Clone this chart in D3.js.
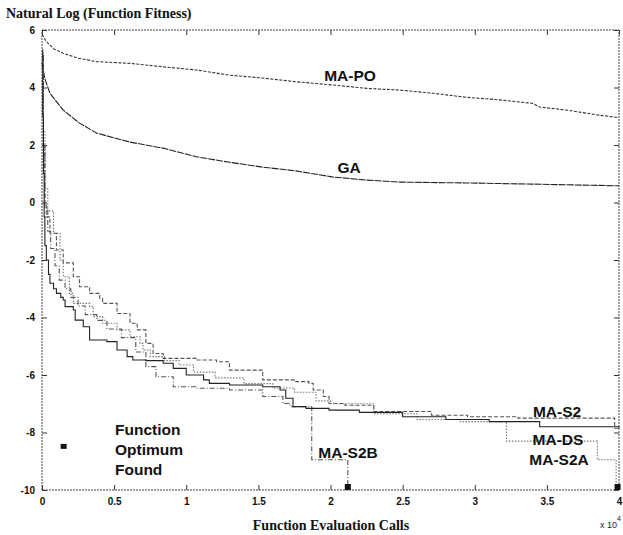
<!DOCTYPE html>
<html lang="en">
<head>
    <meta charset="UTF-8">
    <title>Natural Log (Function Fitness)</title>
    <script src="https://d3js.org/d3.v7.min.js"></script>
    <style>
        body { margin: 0; background: #fff; }
        .tick text { font: bold 10px "Liberation Sans", Arial, sans-serif; fill: #111; }
        .tick line { stroke: #333; }
        .serif { font-family: "Liberation Serif", "Times New Roman", serif; font-weight: bold; fill: #111; }
        .lab { font: bold 15.5px "Liberation Sans", Arial, sans-serif; fill: #111; }
        .series { fill: none; stroke-width: 1.1px; }
    </style>
</head>
<body>
    <svg id="chart"></svg>
    <script>
        // x values are in units of 10^4 evaluation calls (as on the axis)
        const xTicks = [0, 0.5, 1, 1.5, 2, 2.5, 3, 3.5, 4];
        const yTicks = [6, 4, 2, 0, -2, -4, -6, -8, -10];

        const maPO = [[0,5.85],[0.03,5.6],[0.08,5.35],[0.147,5.19],[0.25,5.02],[0.378,4.90],[0.61,4.84],[0.84,4.72],[1.07,4.61],[1.30,4.43],[1.53,4.33],[1.76,4.20],[2.01,4.09],[2.25,3.97],[2.48,3.91],[2.71,3.80],[2.94,3.66],[3.17,3.57],[3.40,3.45],[3.45,3.32],[3.63,3.22],[3.86,3.04],[4.0,2.95]];
        const ga = [[0,4.85],[0.02,4.3],[0.055,3.8],[0.146,3.22],[0.26,2.76],[0.38,2.41],[0.61,2.10],[0.84,1.89],[1.07,1.59],[1.30,1.40],[1.53,1.23],[1.76,1.10],[2.01,0.89],[2.25,0.78],[2.48,0.71],[2.94,0.68],[3.40,0.64],[4.0,0.58]];
        const maDS = [[0,5.3],[0.005,3],[0.01,1],[0.015,-0.5],[0.02,-1.5],[0.03,-2.0],[0.045,-2.5],[0.055,-2.81],[0.08,-3.0],[0.1,-3.16],[0.13,-3.3],[0.147,-3.39],[0.16,-3.62],[0.217,-3.74],[0.23,-4.09],[0.286,-4.32],[0.33,-4.78],[0.45,-4.84],[0.52,-5.13],[0.59,-5.36],[0.63,-5.48],[0.72,-5.50],[0.84,-5.59],[0.91,-5.77],[1.0,-6.0],[1.12,-6.17],[1.16,-6.29],[1.30,-6.35],[1.53,-6.41],[1.65,-6.52],[1.69,-6.81],[1.74,-7.10],[1.83,-7.16],[1.99,-7.22],[2.2,-7.3],[2.5,-7.45],[2.8,-7.55],[3.1,-7.62],[3.45,-7.80],[4.0,-7.84]];
        const maS2 = [[0,5.0],[0.01,2],[0.02,0],[0.03,-0.5],[0.055,-1.07],[0.10,-1.65],[0.147,-2.1],[0.217,-2.58],[0.26,-2.93],[0.33,-3.16],[0.40,-3.33],[0.42,-3.51],[0.52,-3.86],[0.61,-4.20],[0.66,-4.43],[0.72,-4.90],[0.77,-5.25],[0.84,-5.42],[1.07,-5.48],[1.21,-5.54],[1.30,-5.83],[1.53,-6.17],[1.76,-6.23],[1.85,-6.29],[1.88,-6.52],[1.95,-6.75],[1.99,-6.99],[2.1,-7.05],[2.3,-7.27],[2.7,-7.40],[2.95,-7.45],[3.3,-7.50],[3.95,-7.5],[3.97,-7.85],[4.0,-7.85]];
        const maS2A = [[0,5.2],[0.01,2.5],[0.02,0.5],[0.04,-0.3],[0.08,-1.07],[0.125,-2.0],[0.147,-2.58],[0.19,-3.16],[0.217,-3.51],[0.33,-3.62],[0.355,-3.97],[0.42,-4.20],[0.52,-4.43],[0.61,-4.67],[0.68,-4.90],[0.70,-5.13],[0.75,-5.36],[0.85,-5.5],[0.95,-5.65],[1.05,-5.9],[1.2,-6.1],[1.4,-6.3],[1.6,-6.45],[1.75,-6.6],[1.9,-6.9],[2.0,-7.0],[2.3,-7.35],[2.6,-7.55],[2.9,-7.62],[3.22,-8.3],[3.85,-8.95],[3.98,-10],[4.0,-10]];
        const maS2B = [[0,5.1],[0.01,2],[0.02,-0.2],[0.04,-1.0],[0.06,-1.6],[0.09,-2.2],[0.12,-2.7],[0.16,-3.0],[0.2,-3.3],[0.25,-3.6],[0.3,-3.9],[0.38,-4.1],[0.45,-4.4],[0.55,-4.7],[0.65,-5.2],[0.72,-5.71],[0.79,-6.06],[0.91,-6.41],[1.07,-6.46],[1.30,-6.52],[1.53,-6.75],[1.67,-6.99],[1.72,-7.10],[1.87,-8.95],[2.12,-10]];
        const optimumFound = [[2.12,-10],[3.99,-10]];

        const width = 623, height = 535;
        const svg = d3.select("#chart").attr("width", width).attr("height", height);

        const x = d3.scaleLinear().domain([0, 4]).range([42, 619]);
        const y = d3.scaleLinear().domain([-10, 6]).range([490, 30]);

        // axes, MATLAB style inward ticks
        svg.append("g").attr("transform", `translate(0,${y(-10)})`)
            .call(d3.axisBottom(x).tickValues(xTicks).tickSize(-5).tickPadding(8).tickFormat(d => String(d)));
        svg.append("g").attr("transform", `translate(0,${y(6)})`)
            .call(d3.axisTop(x).tickValues(xTicks).tickSize(-5).tickFormat(""));
        svg.append("g").attr("transform", `translate(${x(0)},0)`)
            .call(d3.axisLeft(y).tickValues(yTicks).tickSize(-5).tickPadding(7).tickFormat(d => String(d)));
        svg.append("g").attr("transform", `translate(${x(4)},0)`)
            .call(d3.axisRight(y).tickValues(yTicks).tickSize(-5).tickFormat(""));
        svg.selectAll(".domain").remove();

        svg.append("rect")
            .attr("x", x(0)).attr("y", y(6))
            .attr("width", x(4) - x(0)).attr("height", y(-10) - y(6))
            .attr("fill", "none").attr("stroke", "#444").attr("stroke-dasharray", "2,1");

        const smooth = d3.line().x(d => x(d[0])).y(d => y(d[1]));
        const stepped = d3.line().x(d => x(d[0])).y(d => y(d[1])).curve(d3.curveStepAfter);

        const series = [
            { data: maPO, line: smooth, color: "#333", dash: "3,1.5" },
            { data: ga, line: smooth, color: "#222", dash: "7,1" },
            { data: maS2, line: stepped, color: "#555", dash: "4,2" },
            { data: maS2A, line: stepped, color: "#777", dash: "1.5,1.5" },
            { data: maS2B, line: stepped, color: "#555", dash: "5,2,1,2" },
            { data: maDS, line: stepped, color: "#222", dash: null }
        ];
        series.forEach(s => {
            svg.append("path").attr("class", "series")
                .attr("d", s.line(s.data))
                .attr("stroke", s.color)
                .attr("stroke-dasharray", s.dash);
        });

        svg.selectAll(".found").data(optimumFound).join("rect")
            .attr("class", "found")
            .attr("x", d => x(d[0]) - 3).attr("y", d => y(d[1]) - 6)
            .attr("width", 6).attr("height", 6).attr("fill", "#111");

        // series labels
        const labels = [
            ["MA-PO", 350, 81], ["GA", 349, 173], ["MA-S2", 557, 417],
            ["MA-DS", 558, 445], ["MA-S2A", 559, 465], ["MA-S2B", 348, 458]
        ];
        svg.selectAll(".lab").data(labels).join("text")
            .attr("class", "lab").attr("text-anchor", "middle")
            .attr("x", d => d[1]).attr("y", d => d[2]).text(d => d[0]);

        // legend for optimum marker
        svg.append("rect").attr("x", x(0.15) - 3).attr("y", y(-8.5) - 3)
            .attr("width", 6).attr("height", 5).attr("fill", "#111");
        ["Function", "Optimum", "Found"].forEach((t, i) => {
            svg.append("text").attr("class", "lab")
                .attr("x", 115).attr("y", 435 + i * 20).text(t);
        });

        svg.append("text").attr("class", "serif").attr("x", 6).attr("y", 18)
            .style("font-size", "14px").text("Natural Log (Function Fitness)");
        svg.append("text").attr("class", "serif").attr("x", 331).attr("y", 530)
            .attr("text-anchor", "middle").style("font-size", "14px").text("Function Evaluation Calls");

        const mult = svg.append("text").attr("x", 600).attr("y", 528)
            .style("font", "9px 'Liberation Sans', Arial, sans-serif").attr("fill", "#222");
        mult.append("tspan").text("x 10");
        mult.append("tspan").attr("dy", -7).style("font-size", "7px").text("4");
    </script>
</body>
</html>
